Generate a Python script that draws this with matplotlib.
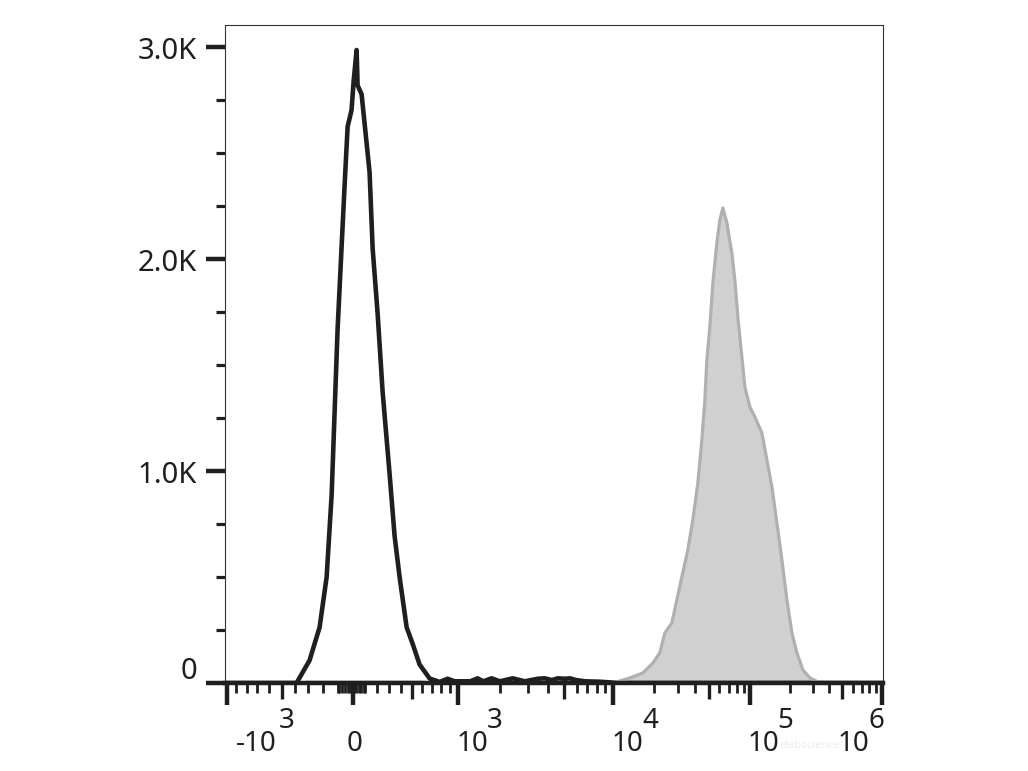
import numpy as np
import matplotlib.pyplot as plt
from matplotlib.ticker import FixedLocator, NullFormatter

plt.rcParams['font.family'] = ['Noto Sans', 'DejaVu Sans']

# --- data ---
# unstained / isotype control (black outline)
ctrl_x = [-1100, -386, -292, -222, -174, -140, -120, -100, -73, -53, -33, -7, 8, 32,
          40, 72, 112, 136, 161, 202, 243, 302, 345, 389, 452, 508, 575, 677,
          785, 876, 962, 1242, 1401, 1534, 1747, 1978, 2400, 2866, 3457, 3824,
          4226, 4601, 5088, 5465, 5948, 6748, 8345, 9591, 12000, 1.1e6]
ctrl_y = [0, 0, 107, 263, 499, 887, 1278, 1669, 2060, 2350, 2625, 2702, 2837, 2986,
          2819, 2777, 2547, 2410, 2050, 1740, 1374, 985, 693, 499, 263, 185, 87, 21,
          5, 20, 8, 8, 22, 8, 22, 8, 22, 8, 20, 22,
          14, 22, 20, 22, 14, 8, 6, 3, 0, 0]

# stained sample (grey filled)
stain_x = [-1100, -350, -300, 600, 700, 9000, 10696, 13310, 16558, 19590, 22030, 23970,
           26960, 29330, 31890, 35270, 38370, 41730, 44630, 46950, 48550, 51050,
           53700, 57420, 60400, 63530, 67950, 73890, 77700, 81710, 87400, 91940,
           100000, 109100, 123300, 134500, 146800, 160200, 174800, 190700, 208000,
           227000, 252100, 284800, 327400, 360000, 1.1e6]
stain_y = [0, 0, 4, 4, 0, 0, 5, 24, 47, 94, 142, 236,
           283, 392, 500, 627, 769, 943, 1146, 1335, 1524, 1679,
           1887, 2075, 2184, 2241, 2170, 2028, 1901, 1726, 1538, 1396,
           1302, 1255, 1179, 1052, 925, 755, 580, 392, 236,
           142, 61, 24, 5, 0, 0]

major_x = [-1e3, 0, 1e3, 1e4, 1e5, 1e6]
mid_x = [-500, 500, 5e3, 5e4, 5e5]
minor_x = ([-v for v in range(100, 1000, 100) if v != 500]
           + [v for v in range(100, 1000, 100) if v != 500]
           + [-90, -70, -50, -30, -15, 15, 30, 50, 70, 90]
           + [k * 10 ** e for e in (3, 4, 5) for k in range(2, 10) if k != 5])
x_labels = [("-10", "3"), ("0", ""), ("10", "3"), ("10", "4"), ("10", "5"), ("10", "6")]
y_ticks = [0, 1000, 2000, 3000]
y_minor = [250, 500, 750, 1250, 1500, 1750, 2250, 2500, 2750]
y_labels = ["0", "1.0K", "2.0K", "3.0K"]

# --- biexponential-like axis: asinh, then piecewise over the decades ---
W = 800.0
U = np.arcsinh(np.array([-1.3e3, -1e3, 0, 1e3, 1e4, 1e5, 1e6, 4e6]) / W)
P = np.array([0, 227, 353, 458, 613, 750, 882, 0], dtype=float)
P[0] = 227 - (U[1] - U[0]) * 126 / (U[2] - U[1])
P[-1] = 882 + (U[-1] - U[-2]) * 132 / (U[-2] - U[-3])


def fwd(x):
    return np.interp(np.arcsinh(np.asarray(x, dtype=float) / W), U, P)


def inv(p):
    return W * np.sinh(np.interp(np.asarray(p, dtype=float), P, U))


ink = '#1f1f1f'
fig = plt.figure(figsize=(10.28, 7.71), dpi=100)
ax = fig.add_axes([225 / 1028, 1 - 683 / 771, 658 / 1028, 658 / 771])
ax.set_xscale('function', functions=(fwd, inv))
ax.set_xlim(inv(225.5), inv(883))
ax.set_ylim(0, 3104)

ax.fill_between(stain_x, stain_y, color='#d0d0d0', lw=0, zorder=2)
ax.plot(ctrl_x, ctrl_y, color=ink, lw=3.3, zorder=3, solid_joinstyle='round')
ax.plot(stain_x, stain_y, color='#b0b0b0', lw=2.3, zorder=4, solid_joinstyle='round')

for s in ['left', 'top', 'right']:
    ax.spines[s].set_linewidth(0.8)
    ax.spines[s].set_color('#333333')
ax.spines['bottom'].set_linewidth(3.2)
ax.spines['bottom'].set_color(ink)
ax.spines['bottom'].set_zorder(5)

ax.xaxis.set_major_locator(FixedLocator(major_x))
ax.xaxis.set_minor_locator(FixedLocator(minor_x))
ax.xaxis.set_major_formatter(NullFormatter())
ax.xaxis.set_minor_formatter(NullFormatter())
ax.tick_params(axis='x', which='major', length=16, width=3.2, color=ink, direction='out')
ax.tick_params(axis='x', which='minor', length=7.5, width=2.0, color=ink, direction='out')
ax.vlines(mid_x, 0, -16 / 658, transform=ax.get_xaxis_transform(), colors=ink,
          lw=2.4, clip_on=False)

ax.yaxis.set_major_locator(FixedLocator(y_ticks))
ax.yaxis.set_minor_locator(FixedLocator(y_minor))
ax.yaxis.set_major_formatter(NullFormatter())
ax.tick_params(axis='y', which='major', length=14, width=3.2, color=ink, direction='out')
ax.tick_params(axis='y', which='minor', length=6.5, width=2.3, color=ink, direction='out')

for v, lab in zip(y_ticks, y_labels):
    dy = 8 if v == 0 else -3
    ax.annotate(lab, xy=(0, v), xycoords=('axes fraction', 'data'),
                xytext=(-20, dy), textcoords='offset points',
                ha='right', va='center', fontsize=21, color=ink)

# offsets (points) of base and exponent from each tick
fs = 20
base_dx = [7, 1.5, -1, -1, -2, -32]
exp_dx = [38, 0, 21, 21, 20, -10]
for v, (b, e), bx, ex in zip(major_x, x_labels, base_dx, exp_dx):
    if e == "":
        ax.annotate(b, xy=(v, 0), xycoords=('data', 'axes fraction'),
                    xytext=(bx, -44), textcoords='offset points',
                    ha='center', va='center', fontsize=fs, color=ink)
        continue
    ax.annotate(b, xy=(v, 0), xycoords=('data', 'axes fraction'),
                xytext=(bx, -44), textcoords='offset points',
                ha='left', va='center', fontsize=fs, color=ink)
    ax.annotate(e, xy=(v, 0), xycoords=('data', 'axes fraction'),
                xytext=(ex, -27), textcoords='offset points',
                ha='left', va='center', fontsize=fs, color=ink)

fig.text(810 / 1028, 1 - 746 / 771, 'elabscience', fontsize=8, color='#ececec',
         ha='center', va='center')

plt.savefig('out.png', dpi=100)
